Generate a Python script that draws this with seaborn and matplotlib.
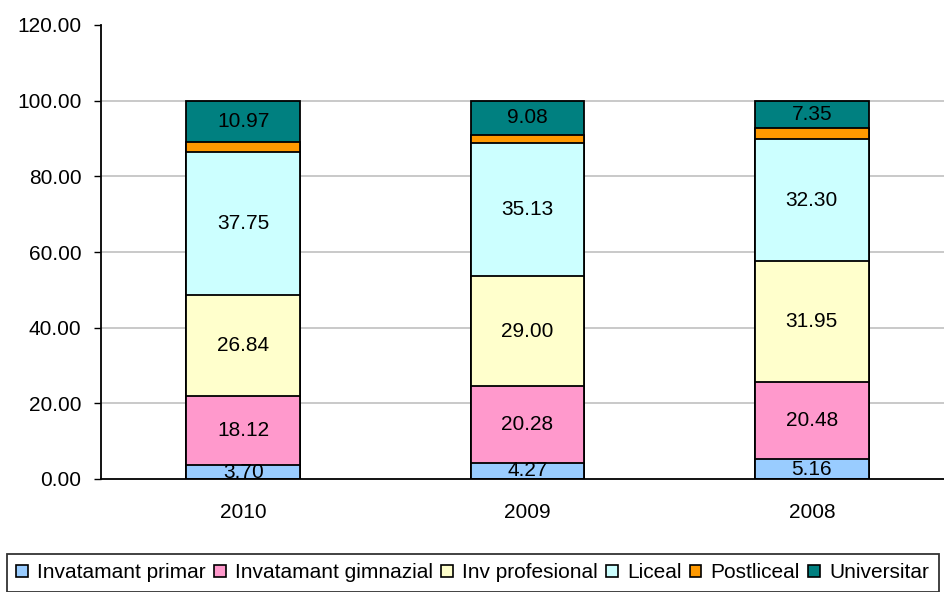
import numpy as np
import pandas as pd
import matplotlib
matplotlib.use("Agg")
import matplotlib.pyplot as plt
import seaborn as sns
from matplotlib.patches import Patch

years = ["2010", "2009", "2008"]
series = ["Invatamant primar", "Invatamant gimnazial", "Inv profesional",
          "Liceal", "Postliceal", "Universitar"]
primar = [3.70, 4.27, 5.16]
gimnazial = [18.12, 20.28, 20.48]
profesional = [26.84, 29.00, 31.95]
liceal = [37.75, 35.13, 32.30]
postliceal = [2.62, 2.24, 2.76]
universitar = [10.97, 9.08, 7.35]
colors = ["#99CCFF", "#FF99CC", "#FFFFCC", "#CCFFFF", "#FF9900", "#008080"]
show_label = [True, True, True, True, False, True]

sns.set_theme(style="white")
plt.rcParams["font.family"] = ["Liberation Sans", "DejaVu Sans"]
plt.rcParams["text.color"] = "black"
plt.rcParams["xtick.color"] = "black"
plt.rcParams["ytick.color"] = "black"
plt.rcParams["xtick.labelcolor"] = "black"
plt.rcParams["ytick.labelcolor"] = "black"
FS = 15

values = np.array([primar, gimnazial, profesional, liceal, postliceal, universitar])
tops = values.cumsum(axis=0)

fig = plt.figure(figsize=(9.44, 5.92), dpi=100)
ax = fig.add_axes([101 / 944, 113 / 592, 853 / 944, 454 / 592])

# draw cumulative bars from the top down so each lower one covers the rest
for i in range(len(series) - 1, -1, -1):
    df = pd.DataFrame({"year": years, "top": tops[i]})
    sns.barplot(data=df, x="year", y="top", color=colors[i], width=0.4,
                edgecolor="black", linewidth=1.3, saturation=1, ax=ax, zorder=2)

for j in range(len(years)):
    for i in range(len(series)):
        if not show_label[i]:
            continue
        mid = tops[i, j] - values[i, j] / 2
        ax.text(j, mid, f"{values[i, j]:.2f}", ha="center", va="center",
                fontsize=FS, color="black", zorder=3)

ax.set_ylim(0, 120)
ax.set_xlim(-0.5, 2.5)
ax.set_yticks(np.arange(0, 121, 20))
ax.set_yticklabels([f"{v:.2f}" for v in np.arange(0, 121, 20)], fontsize=FS)
ax.set_xticks(range(3))
ax.set_xticklabels(years, fontsize=FS)
ax.set_xticks([0.5, 1.5], minor=True)
ax.tick_params(axis="x", which="major", length=0, pad=17)
ax.tick_params(axis="x", which="minor", length=5, width=1, color="black", direction="out")
ax.tick_params(axis="y", length=5, width=1, color="black", direction="out", left=True, pad=9)
ax.set_xlabel("")
ax.set_ylabel("")
for g in np.arange(20, 101, 20):
    ax.axhline(g, color="#c0c0c0", linewidth=1.2, zorder=1)
for s in ["top", "right"]:
    ax.spines[s].set_visible(False)
for s in ["left", "bottom"]:
    ax.spines[s].set_color("black")
    ax.spines[s].set_linewidth(1.3)
    ax.spines[s].set_zorder(4)

handles = [Patch(facecolor=c, edgecolor="black", linewidth=1.2) for c in colors]
leg = fig.legend(handles, series, loc="upper left", bbox_to_anchor=(7 / 944, 38 / 592),
                 ncol=6, frameon=True, fontsize=FS, handlelength=0.55, handleheight=0.55,
                 handletextpad=0.45, columnspacing=0.4, borderpad=0.45, fancybox=False,
                 borderaxespad=0)
leg.get_frame().set_edgecolor("black")
leg.get_frame().set_linewidth(1.3)

fig.savefig("out.png", dpi=100)
